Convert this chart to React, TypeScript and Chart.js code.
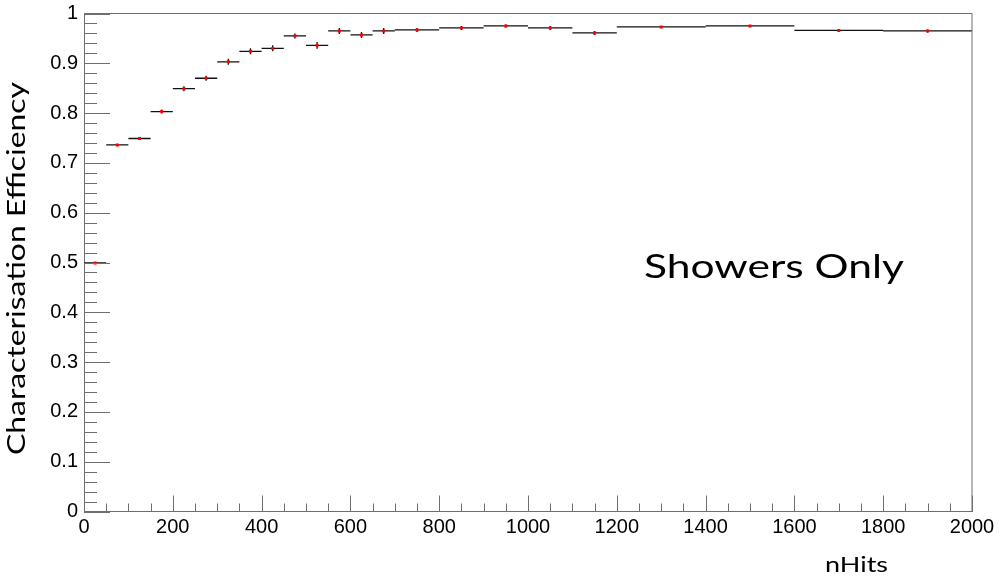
import React, { useEffect, useRef } from 'react';
import { Chart, registerables } from 'chart.js';

Chart.register(...registerables);

// ---- data ----
const binEdges = [0, 50, 100, 150, 200, 250, 300, 350, 400, 450, 500, 550, 600, 650, 700, 800, 900, 1000, 1100, 1200, 1400, 1600, 1800, 2000];
const efficiency = [0.499, 0.736, 0.749, 0.803, 0.849, 0.870, 0.903, 0.924, 0.930, 0.955, 0.936, 0.965, 0.957, 0.965, 0.967, 0.971, 0.975, 0.971, 0.961, 0.973, 0.975, 0.966, 0.965];
const efficiencyErr = [0.001, 0.002, 0.003, 0.004, 0.005, 0.005, 0.006, 0.006, 0.006, 0.005, 0.007, 0.006, 0.006, 0.006, 0.004, 0.004, 0.003, 0.004, 0.004, 0.002, 0.002, 0.002, 0.003];
const xMin = 0;
const xMax = 2000;
const xMajorStep = 200;
const xMinorStep = 50;
const yMin = 0;
const yMax = 1;
const yMajorStep = 0.1;
const yMinorStep = 0.02;
const xTitle = 'nHits';
const yTitle = 'Characterisation Efficiency';
const annotationText = 'Showers Only';

const AXIS_COLOR = '#6e6e6e';
const TICK_FONT = '"Liberation Sans", Arial, Helvetica, sans-serif';
const TITLE_FONT = 'Lato, "Open Sans", sans-serif';

function fittedText(
  ctx: CanvasRenderingContext2D,
  text: string,
  x: number,
  y: number,
  size: number,
  targetWidth: number,
  rotate = 0
) {
  ctx.save();
  ctx.font = `${size}px ${TITLE_FONT}`;
  ctx.fillStyle = '#000';
  ctx.textBaseline = 'alphabetic';
  ctx.textAlign = 'left';
  const w = ctx.measureText(text).width;
  const sx = targetWidth / w;
  ctx.translate(x, y);
  if (rotate) ctx.rotate(rotate);
  ctx.scale(sx, 1);
  ctx.fillText(text, 0, 0);
  ctx.restore();
}

const rootStyle = {
  id: 'rootStyle',
  afterDatasetsDraw(chart: any) {
    const { ctx, chartArea: a, scales } = chart;
    const xs = scales.x;
    const ys = scales.y;
    ctx.save();
    ctx.strokeStyle = AXIS_COLOR;
    ctx.lineWidth = 1;
    ctx.beginPath();
    ctx.moveTo(a.left, a.top);
    ctx.lineTo(a.right, a.top);
    ctx.lineTo(a.right, a.bottom);
    ctx.stroke();
    // x ticks (inside)
    const nx = Math.round((xMax - xMin) / xMinorStep);
    const xRatio = Math.round(xMajorStep / xMinorStep);
    ctx.beginPath();
    for (let i = 0; i <= nx; i++) {
      const v = xMin + i * xMinorStep;
      const px = Math.round(xs.getPixelForValue(v)) + 0.5;
      const len = i % xRatio === 0 ? 16 : 8;
      ctx.moveTo(px, a.bottom);
      ctx.lineTo(px, a.bottom - len);
    }
    // y ticks (inside)
    const ny = Math.round((yMax - yMin) / yMinorStep);
    const yRatio = Math.round(yMajorStep / yMinorStep);
    for (let i = 0; i <= ny; i++) {
      const v = yMin + i * yMinorStep;
      const py = Math.round(ys.getPixelForValue(v)) + 0.5;
      const len = i % yRatio === 0 ? 26 : 13;
      ctx.moveTo(a.left, py);
      ctx.lineTo(a.left + len, py);
    }
    ctx.stroke();
    ctx.restore();
  },
  afterDraw(chart: any) {
    const { ctx } = chart;
    fittedText(ctx, annotationText, 644, 278, 33, 260);
    fittedText(ctx, xTitle, 825, 572, 21, 63);
    fittedText(ctx, yTitle, 25, 455, 25, 373, -Math.PI / 2);
  },
};

export default function App() {
  const ref = useRef<HTMLCanvasElement | null>(null);

  useEffect(() => {
    document.body.style.margin = '0';
    const canvas = ref.current;
    if (!canvas) return;

    const binLines: any[] = [];
    const errLines: any[] = [];
    const centers: any[] = [];
    efficiency.forEach((v, i) => {
      const lo = binEdges[i];
      const hi = binEdges[i + 1];
      const mid = (lo + hi) / 2;
      binLines.push({ x: lo, y: v }, { x: hi, y: v }, { x: hi, y: null });
      errLines.push({ x: mid, y: v - efficiencyErr[i] }, { x: mid, y: v + efficiencyErr[i] }, { x: mid, y: null });
      centers.push({ x: mid, y: v });
    });

    const chart = new Chart(canvas, {
      type: 'scatter',
      data: {
        datasets: [
          {
            label: 'bins',
            data: binLines,
            showLine: true,
            spanGaps: false,
            borderColor: '#111',
            borderWidth: 1.3,
            pointRadius: 0,
            order: 3,
          },
          {
            label: 'errors',
            data: errLines,
            showLine: true,
            spanGaps: false,
            borderColor: '#111',
            borderWidth: 1.3,
            pointRadius: 0,
            order: 2,
          },
          {
            label: 'points',
            data: centers,
            showLine: false,
            pointStyle: 'rect',
            pointRadius: 2.1,
            pointBackgroundColor: '#ff0000',
            pointBorderWidth: 0,
            order: 1,
          },
        ] as any,
      },
      options: {
        responsive: false,
        animation: false,
        layout: { padding: { left: 0, right: 27, top: 13.5, bottom: 0 } },
        plugins: {
          legend: { display: false },
          tooltip: { enabled: false },
          title: { display: false },
        },
        scales: {
          x: {
            type: 'linear',
            min: xMin,
            max: xMax,
            grid: { display: true, drawOnChartArea: false, drawTicks: false },
            border: { display: true, color: AXIS_COLOR, width: 1 },
            ticks: {
              stepSize: xMajorStep,
              autoSkip: false,
              maxRotation: 0,
              padding: 4,
              color: '#000',
              font: { family: TICK_FONT, size: 20 },
              callback: (v: any) => String(Math.round(Number(v))),
            },
            afterFit(scale: any) {
              scale.height = 64.5;
              scale.paddingLeft = 0;
              scale.paddingRight = 0;
            },
          },
          y: {
            type: 'linear',
            min: yMin,
            max: yMax,
            grid: { display: true, drawOnChartArea: false, drawTicks: false },
            border: { display: true, color: AXIS_COLOR, width: 1 },
            ticks: {
              stepSize: yMajorStep,
              autoSkip: false,
              padding: 6,
              color: '#000',
              font: { family: TICK_FONT, size: 20 },
              callback: (v: any) => {
                const n = Number(v);
                if (Math.abs(n) < 1e-9) return '0';
                if (Math.abs(n - 1) < 1e-9) return '1';
                return n.toFixed(1);
              },
            },
            afterFit(scale: any) {
              scale.width = 84;
              scale.paddingTop = 0;
              scale.paddingBottom = 0;
            },
          },
        },
      },
      plugins: [rootStyle],
    });

    return () => chart.destroy();
  }, []);

  return (
    <div style={{ position: 'absolute', left: 0, top: 0, width: 999, height: 576, background: '#fff' }}>
      <canvas ref={ref} width={999} height={576} style={{ display: 'block', width: 999, height: 576 }} />
    </div>
  );
}
